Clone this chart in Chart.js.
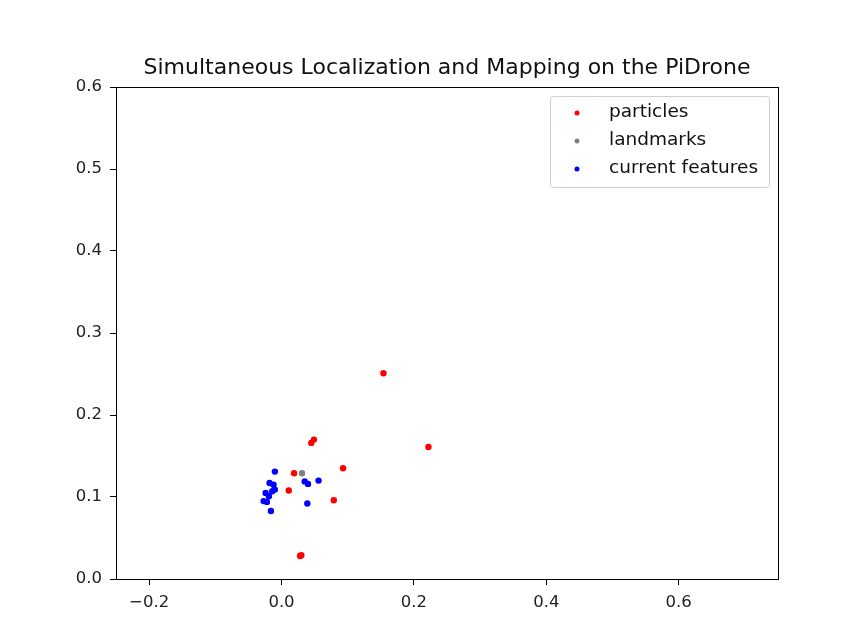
<!DOCTYPE html>
<html>
<head>
<meta charset="utf-8">
<script src="https://cdn.jsdelivr.net/npm/chart.js@4.4.1/dist/chart.umd.min.js"></script>
<style>
  html, body { margin: 0; padding: 0; background: #ffffff; }
  #wrap { width: 848px; height: 641px; }
</style>
</head>
<body>
<div id="wrap"><canvas id="c" width="848" height="641"></canvas></div>
<script>
// Particle filter estimates of the drone position
const particlesX = [0.154, 0.049, 0.045, 0.222, 0.093, 0.019, 0.011, 0.079, 0.028, 0.030];
const particlesY = [0.251, 0.170, 0.166, 0.161, 0.135, 0.129, 0.108, 0.096, 0.028, 0.029];

// Landmarks in the map
const landmarksX = [0.031];
const landmarksY = [0.129];

// Features seen in the current frame
const featuresX = [-0.010, -0.018, -0.012, -0.010, -0.014, -0.024, -0.019, -0.027, -0.022, -0.016, 0.035, 0.040, 0.056, 0.039];
const featuresY = [0.131, 0.117, 0.115, 0.109, 0.107, 0.105, 0.101, 0.095, 0.094, 0.083, 0.119, 0.116, 0.120, 0.092];

const xTicks = [-0.2, 0.0, 0.2, 0.4, 0.6];
const yTicks = [0.0, 0.1, 0.2, 0.3, 0.4, 0.5, 0.6];

const titleText = 'Simultaneous Localization and Mapping on the PiDrone';
const FONT = '"DejaVu Sans", sans-serif';

function toPoints(xs, ys) { return xs.map((x, i) => ({ x: x, y: ys[i] })); }
function fmt(v) { const s = Math.abs(v).toFixed(1); return v < 0 ? '\u2212' + s : s; }

// Frame, title and legend drawn on top of the scales
const decor = {
  id: 'decor',
  beforeDraw(chart) {
    const ctx = chart.ctx;
    ctx.save();
    ctx.fillStyle = '#ffffff';
    ctx.fillRect(0, 0, chart.width, chart.height);
    ctx.restore();
  },
  afterDraw(chart) {
    const ctx = chart.ctx, a = chart.chartArea;
    ctx.save();
    ctx.strokeStyle = '#000000';
    ctx.lineWidth = 1;
    ctx.strokeRect(Math.round(a.left) + 0.5, Math.round(a.top) + 0.5,
                   Math.round(a.right - a.left), Math.round(a.bottom - a.top));

    ctx.fillStyle = '#111111';
    ctx.font = '22px ' + FONT;
    ctx.textAlign = 'center';
    ctx.textBaseline = 'alphabetic';
    ctx.fillText(titleText, (a.left + a.right) / 2, a.top - 13);

    // legend box in the upper right corner
    const items = chart.data.datasets;
    const bx = a.right - 228, by = a.top + 9, bw = 219, bh = 91;
    ctx.fillStyle = 'rgba(255,255,255,0.8)';
    ctx.strokeStyle = '#cfcfcf';
    ctx.lineWidth = 1;
    ctx.beginPath();
    if (ctx.roundRect) ctx.roundRect(bx + 0.5, by + 0.5, bw, bh, 3); else ctx.rect(bx + 0.5, by + 0.5, bw, bh);
    ctx.fill();
    ctx.stroke();
    ctx.font = '18.5px ' + FONT;
    ctx.textAlign = 'left';
    ctx.textBaseline = 'middle';
    items.forEach((ds, i) => {
      const cy = by + 16 + i * 28;
      ctx.fillStyle = ds.backgroundColor;
      ctx.beginPath();
      ctx.arc(bx + 27, cy + 1, 2.5, 0, Math.PI * 2);
      ctx.fill();
      ctx.fillStyle = '#111111';
      ctx.fillText(ds.label, bx + 59, cy);
    });
    ctx.restore();
  }
};

new Chart(document.getElementById('c'), {
  type: 'scatter',
  data: {
    datasets: [
      { label: 'particles', data: toPoints(particlesX, particlesY), backgroundColor: '#ff0000', borderColor: '#ff0000' },
      { label: 'landmarks', data: toPoints(landmarksX, landmarksY), backgroundColor: '#808080', borderColor: '#808080' },
      { label: 'current features', data: toPoints(featuresX, featuresY), backgroundColor: '#0000ff', borderColor: '#0000ff' }
    ]
  },
  options: {
    responsive: false,
    animation: false,
    layout: { padding: { left: 0, top: 87, right: 70, bottom: 0 } },
    elements: { point: { radius: 3.2, borderWidth: 0, hoverRadius: 3.2 } },
    plugins: { legend: { display: false }, title: { display: false }, tooltip: { enabled: false } },
    scales: {
      x: {
        type: 'linear', min: -0.25, max: 0.75,
        afterBuildTicks(s) { s.ticks = xTicks.map(v => ({ value: v })); },
        afterFit(s) { s.height = 62; },
        grid: { display: true, drawOnChartArea: false, drawTicks: true, tickLength: 6, tickColor: '#000000', tickWidth: 1 },
        border: { display: true, color: '#000000', width: 1 },
        ticks: { color: '#222222', font: { family: FONT, size: 16.5 }, padding: 8, maxRotation: 0, autoSkip: false,
                 callback: v => fmt(v) }
      },
      y: {
        type: 'linear', min: 0, max: 0.6,
        afterBuildTicks(s) { s.ticks = yTicks.map(v => ({ value: v })); },
        afterFit(s) { s.width = 116; },
        grid: { display: true, drawOnChartArea: false, drawTicks: true, tickLength: 6, tickColor: '#000000', tickWidth: 1 },
        border: { display: true, color: '#000000', width: 1 },
        ticks: { color: '#222222', font: { family: FONT, size: 16.5 }, padding: 8, autoSkip: false,
                 callback: v => fmt(v) }
      }
    }
  },
  plugins: [decor]
});
</script>
</body>
</html>
